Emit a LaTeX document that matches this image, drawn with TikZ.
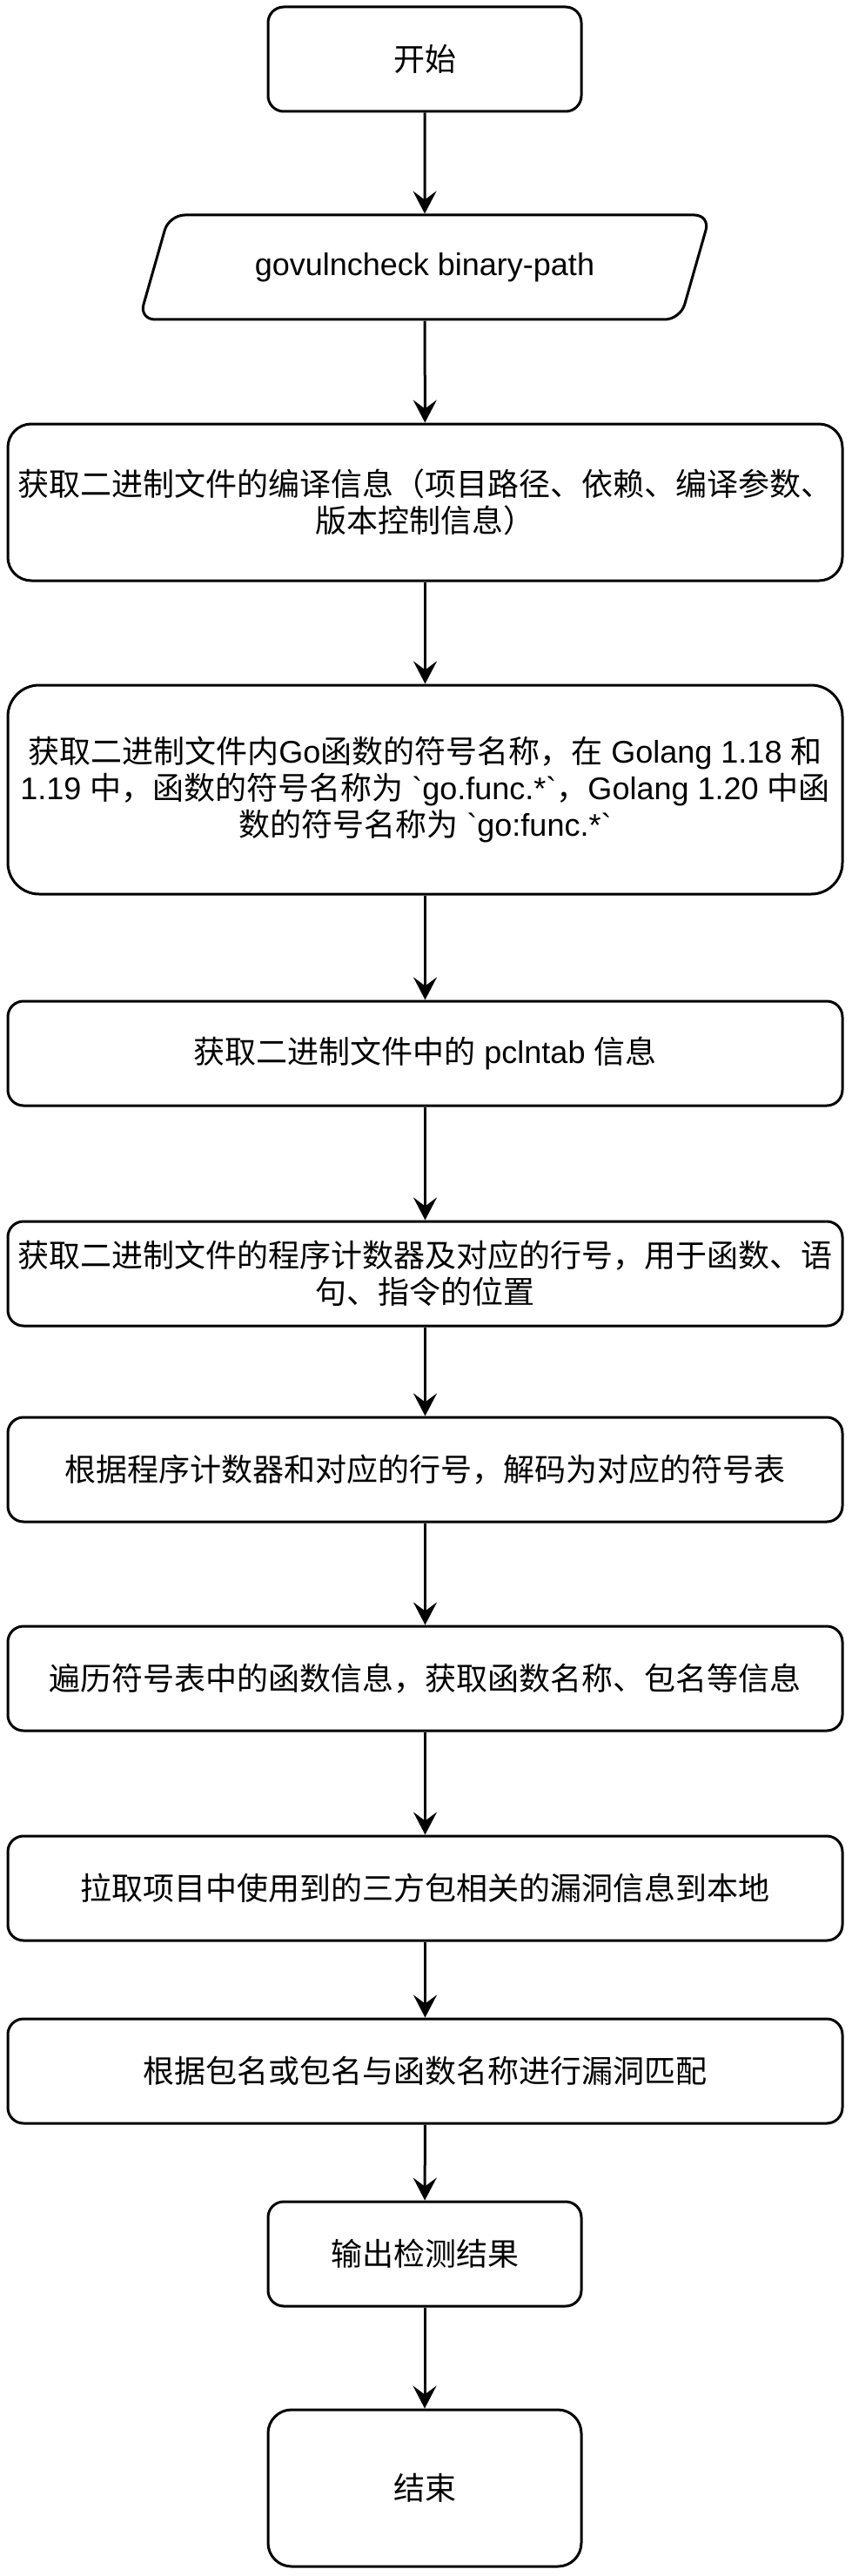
\documentclass[tikz,border=0pt]{standalone}
\usepackage{fontspec}
\setmainfont{Noto Sans CJK SC}
\newfontfamily\en{Liberation Sans}[Ligatures=TeXOff]
\usetikzlibrary{shapes.geometric,arrows.meta}

\begin{document}
\begin{tikzpicture}[x=1pt,y=-1pt,
		box/.style={draw,line width=1.5pt,rounded corners=9pt,align=center,font=\fontsize{18}{21}\selectfont,minimum width=479.5pt,minimum height=60pt,inner sep=2pt},
		term/.style={box,minimum width=180pt},
		io/.style={draw,line width=1.5pt,rounded corners=9pt,trapezium,trapezium left angle=63.4,trapezium right angle=116.6,trapezium stretches=true,minimum width=329pt,minimum height=60pt,font=\fontsize{18}{21}\selectfont},
		flow/.style={line width=1.5pt,-{Stealth[length=13pt,width=13.5pt,inset=5pt]}}]
		\useasboundingbox (0,0) rectangle (489.5,1479.5);
		\node[term] (start) at (244,34) {开始};
		\node[io] (input) at (244,153.5) {\en govulncheck binary-path};
		\node[box,minimum height=90pt,rounded corners=13.5pt] (buildinfo) at (244.25,288.5) {获取二进制文件的编译信息（项目路径、依赖、编译参数、\\版本控制信息）};
		\node[box,minimum height=120pt,rounded corners=18pt] (symname) at (244.25,453.5) {获取二进制文件内{\en Go}函数的符号名称，在{\en\ Golang 1.18 }和\\{\en 1.19 }中，函数的符号名称为{\en\ `go.func.*`}，{\en Golang 1.20 }中函\\数的符号名称为{\en\ `go:func.*`}};
		\node[box] (pclntab) at (244.25,605) {获取二进制文件中的{\en\ pclntab }信息};
		\node[box] (pcline) at (244.25,731.5) {获取二进制文件的程序计数器及对应的行号，用于函数、语\\句、指令的位置};
		\node[box] (decode) at (244.25,844) {根据程序计数器和对应的行号，解码为对应的符号表};
		\node[box] (funcs) at (244.25,964) {遍历符号表中的函数信息，获取函数名称、包名等信息};
		\node[box] (vulndb) at (244.25,1084.5) {拉取项目中使用到的三方包相关的漏洞信息到本地};
		\node[box] (vulnmatch) at (244.25,1189.5) {根据包名或包名与函数名称进行漏洞匹配};
		\node[term] (report) at (244,1294.5) {输出检测结果};
		\node[term,minimum height=90pt,rounded corners=13.5pt] (finish) at (244,1429) {结束};
		
		\draw[flow] (start) to (input);
		\draw[flow] (input) to (buildinfo);
		\draw[flow] (buildinfo) to (symname);
		\draw[flow] (symname) to (pclntab);
		\draw[flow] (pclntab) to (pcline);
		\draw[flow] (pcline) to (decode);
		\draw[flow] (decode) to (funcs);
		\draw[flow] (funcs) to (vulndb);
		\draw[flow] (vulndb) to (vulnmatch);
		\draw[flow] (vulnmatch) to (report);
		\draw[flow] (report) to (finish);
	\end{tikzpicture}
\end{document}
